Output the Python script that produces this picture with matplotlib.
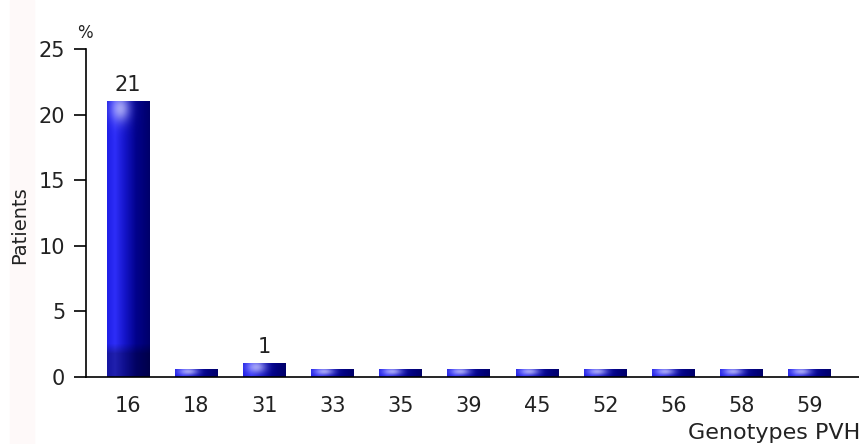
import numpy as np
import matplotlib
matplotlib.use("Agg")
import matplotlib.pyplot as plt
from matplotlib.colors import to_rgb
from matplotlib.patches import Rectangle

genotypes = ["16", "18", "31", "33", "35", "39", "45", "52", "56", "58", "59"]
patients_pct = [21, 0, 1, 0, 0, 0, 0, 0, 0, 0, 0]

W, H = 859, 444
STUB = 0.6      # zero-valued genotypes still get a thin bar
BAR_W = 0.63
FS = 15
TXT = "#222222"


def bar_image(h_px, w_px):
    """Blue cylinder-ish shading: bright left, navy right, pale top highlight."""
    ny, nx = max(int(round(h_px)), 2), max(int(round(w_px)), 2)
    t = np.linspace(0, 1, nx)
    stops = [0.0, 0.18, 0.42, 0.68, 1.0]
    cols = np.array([to_rgb(c) for c in
                     ["#1e1ee6", "#2e2ef8", "#1414c8", "#02028c", "#00006a"]])
    row = np.stack([np.interp(t, stops, cols[:, k]) for k in range(3)], axis=-1)
    img = np.repeat(row[None, :, :], ny, axis=0)

    yy = np.arange(ny)[:, None].astype(float)
    xx = np.arange(nx)[None, :].astype(float)

    # darker base on tall bars
    if ny > 60:
        base = np.clip((yy - (ny - 34)) / 10.0, 0, 1)
        img = img * (1 - 0.3 * base[..., None])

    # pale highlight near the top left
    hy = min(7.0, ny * 0.25)
    sy = max(min(13.0, ny * 0.45), 2.0)
    d2 = ((xx - 0.3 * nx) / (0.22 * nx)) ** 2 + ((yy - hy) / sy) ** 2
    a = 0.7 * np.exp(-d2)
    hl = np.array(to_rgb("#d8d8ff"))
    img = img * (1 - a[..., None]) + hl * a[..., None]
    return img


fig = plt.figure(figsize=(W / 100, H / 100), dpi=100)
fig.patches.append(Rectangle((10 / W, 0), 24 / W, 1, transform=fig.transFigure,
                             color="#fef9f9", zorder=0))

ax = fig.add_axes([86 / W, 1 - 377 / H, 1 - 86 / W, 328 / H])
ax.patch.set_alpha(0)
x = np.arange(len(genotypes))
ax.set_xlim(-0.616, 10.72)
ax.set_ylim(0, 25)

px_per_x = (W - 86) / (10.72 + 0.616)
px_per_y = 328 / 25
heights = [max(v, STUB) for v in patients_pct]
for xi, h in zip(x, heights):
    img = bar_image(h * px_per_y, BAR_W * px_per_x)
    ax.imshow(img, extent=(xi - BAR_W / 2, xi + BAR_W / 2, 0, h),
              aspect="auto", interpolation="bilinear", zorder=2)

for xi, v in zip(x, patients_pct):
    if v > 0:
        ax.annotate(f"{v}", (xi, v), xytext=(0, 5), textcoords="offset points",
                    ha="center", va="bottom", fontsize=FS, color=TXT)

ax.set_xlim(-0.616, 10.72)
ax.set_ylim(0, 25)
ax.set_xticks(x)
ax.set_xticklabels(genotypes, fontsize=FS, color=TXT)
ax.set_yticks([0, 5, 10, 15, 20, 25])
ax.tick_params(axis="x", length=0, pad=14)
ax.tick_params(axis="y", length=9, width=1.2, labelsize=FS, pad=6,
               labelcolor=TXT)

for s in ["top", "right"]:
    ax.spines[s].set_visible(False)
for s in ["left", "bottom"]:
    ax.spines[s].set_linewidth(1.2)

fig.text(85 / W, 1 - 33 / H, "%", ha="center", va="center", fontsize=12,
         color=TXT)
fig.text(20 / W, 1 - 225 / H, "Patients", rotation=90, ha="center",
         va="center", fontsize=14, color=TXT)
fig.text(688 / W, 1 - 433 / H, "Genotypes PVH", ha="left", va="center",
         fontsize=16, color=TXT)

fig.savefig("out.png", dpi=100)
